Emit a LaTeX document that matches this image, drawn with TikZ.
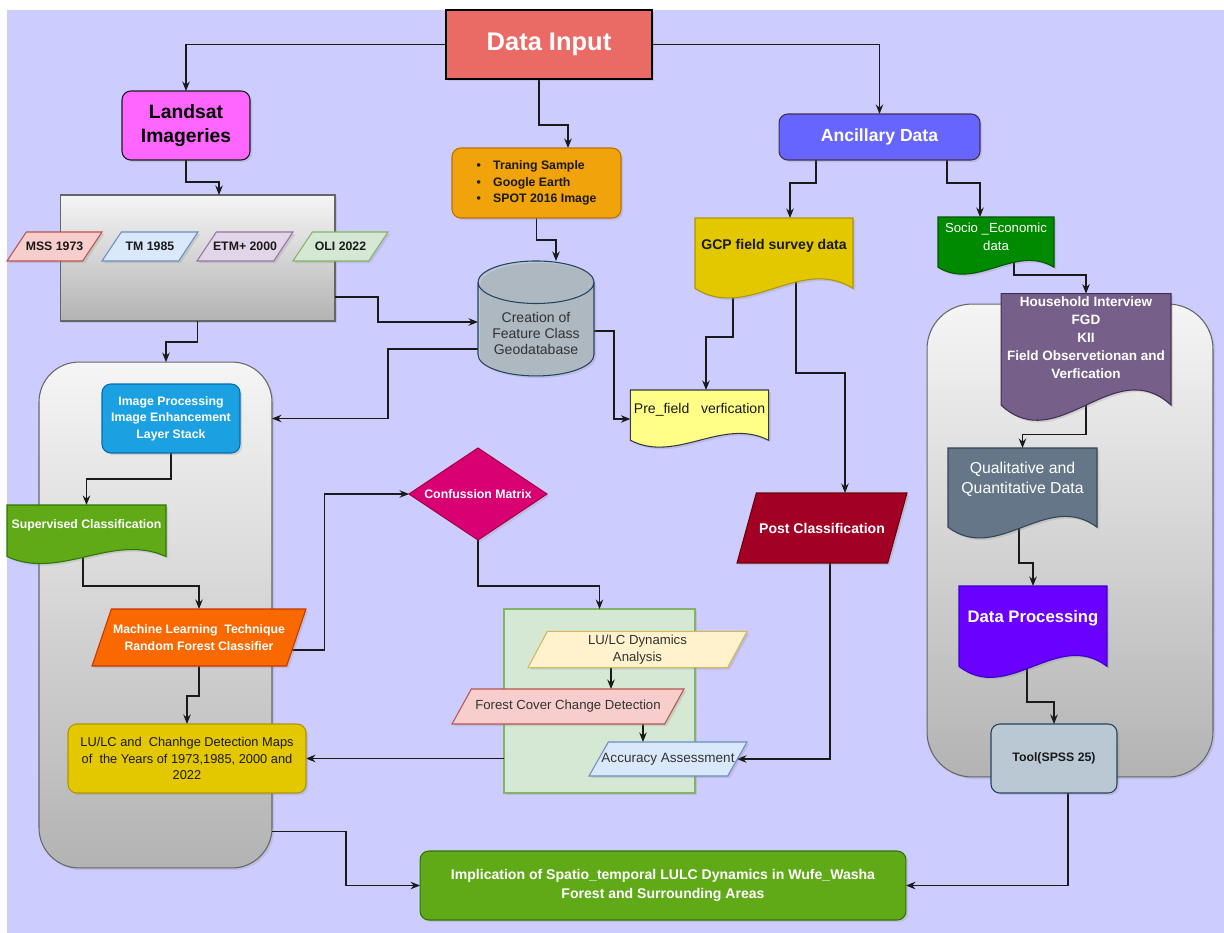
\documentclass[tikz,border=0pt]{standalone}
\usepackage{fontspec}
\setmainfont{Liberation Sans}
\usetikzlibrary{shapes.geometric,arrows.meta,shadows}

\definecolor{bgcol}{HTML}{CCCCFF}
\definecolor{ink}{HTML}{1A1A1A}
\definecolor{inred}{HTML}{EA6B66}
\definecolor{pinkfill}{HTML}{FF66FF}
\definecolor{orfill}{HTML}{F0A30A}\definecolor{orline}{HTML}{BD7000}
\definecolor{geofill}{HTML}{BAC8D3}\definecolor{geoline}{HTML}{23445D}
\definecolor{prefill}{HTML}{FFFF88}\definecolor{preline}{HTML}{36393D}
\definecolor{ancfill}{HTML}{6666FF}\definecolor{ancline}{HTML}{432D57}
\definecolor{gcpfill}{HTML}{E3C800}\definecolor{gcpline}{HTML}{B09500}
\definecolor{socfill}{HTML}{008A00}\definecolor{socline}{HTML}{005700}
\definecolor{hhfill}{HTML}{76608A}\definecolor{hhline}{HTML}{432D57}
\definecolor{qfill}{HTML}{647687}\definecolor{qline}{HTML}{314354}
\definecolor{dpfill}{HTML}{6A00FF}\definecolor{dpline}{HTML}{3700CC}
\definecolor{grfill}{HTML}{60A917}\definecolor{grline}{HTML}{2D7600}
\definecolor{blfill}{HTML}{1BA1E2}\definecolor{blline}{HTML}{006EAF}
\definecolor{mlfill}{HTML}{FA6800}\definecolor{mlline}{HTML}{C73500}
\definecolor{cmfill}{HTML}{D80073}\definecolor{cmline}{HTML}{A50040}
\definecolor{pcfill}{HTML}{A20025}\definecolor{pcline}{HTML}{6F0000}
\definecolor{lgfill}{HTML}{D5E8D4}\definecolor{lgline}{HTML}{82B366}
\definecolor{lyfill}{HTML}{FFF2CC}\definecolor{lyline}{HTML}{D6B656}
\definecolor{lrfill}{HTML}{F8CECC}\definecolor{lrline}{HTML}{B85450}
\definecolor{lbfill}{HTML}{DAE8FC}\definecolor{lbline}{HTML}{6C8EBF}
\definecolor{lpfill}{HTML}{E1D5E7}\definecolor{lpline}{HTML}{9673A6}
\definecolor{ctop}{HTML}{F5F5F5}\definecolor{cbot}{HTML}{B3B3B3}\definecolor{cline}{HTML}{666666}

\newdimen\slantoff \slantoff=11pt
\newdimen\docthird \newdimen\docpull \newdimen\docend
\newdimen\docup \newdimen\docdown

\makeatletter
\pgfdeclareshape{slantbox}{%
  \inheritsavedanchors[from=rectangle]
  \inheritanchorborder[from=rectangle]
  \inheritanchor[from=rectangle]{center}
  \inheritanchor[from=rectangle]{north}
  \inheritanchor[from=rectangle]{south}
  \inheritanchor[from=rectangle]{east}
  \inheritanchor[from=rectangle]{west}
  \inheritanchor[from=rectangle]{north east}
  \inheritanchor[from=rectangle]{north west}
  \inheritanchor[from=rectangle]{south east}
  \inheritanchor[from=rectangle]{south west}
  \inheritanchor[from=rectangle]{text}
  \inheritanchor[from=rectangle]{base}
  \inheritanchor[from=rectangle]{mid}
  \backgroundpath{%
    \southwest \pgf@xa=\pgf@x \pgf@ya=\pgf@y
    \northeast \pgf@xb=\pgf@x \pgf@yb=\pgf@y
    \pgf@xc=\pgf@xa \advance\pgf@xc by \slantoff
    \pgf@yc=\pgf@xb \advance\pgf@yc by -\slantoff
    \pgfpathmoveto{\pgfqpoint{\pgf@xa}{\pgf@ya}}%
    \pgfpathlineto{\pgfqpoint{\pgf@xc}{\pgf@yb}}%
    \pgfpathlineto{\pgfqpoint{\pgf@xb}{\pgf@yb}}%
    \pgfpathlineto{\pgfqpoint{\pgf@yc}{\pgf@ya}}%
    \pgfpathclose
  }%
}
\pgfdeclareshape{docbox}{%
  \inheritsavedanchors[from=rectangle]
  \inheritanchorborder[from=rectangle]
  \inheritanchor[from=rectangle]{center}
  \inheritanchor[from=rectangle]{north}
  \inheritanchor[from=rectangle]{south}
  \inheritanchor[from=rectangle]{east}
  \inheritanchor[from=rectangle]{west}
  \inheritanchor[from=rectangle]{north east}
  \inheritanchor[from=rectangle]{north west}
  \inheritanchor[from=rectangle]{south east}
  \inheritanchor[from=rectangle]{south west}
  \inheritanchor[from=rectangle]{text}
  \inheritanchor[from=rectangle]{base}
  \inheritanchor[from=rectangle]{mid}
  \backgroundpath{%
    \southwest \pgf@xa=\pgf@x \pgf@ya=\pgf@y
    \northeast \pgf@xb=\pgf@x \pgf@yb=\pgf@y
    \docthird=\pgf@xb \advance\docthird by -\pgf@xa \divide\docthird by 3
    \docpull=\pgf@yb \advance\docpull by -\pgf@ya
    \docend=-0.257\docpull \advance\docend by \pgf@ya
    \docpull=0.593\docpull
    \docup=\docend \advance\docup by \docpull
    \docdown=\docend \advance\docdown by -\docpull
    \pgf@xc=\pgf@xb \advance\pgf@xc by -\docthird
    \pgf@yc=\pgf@xa \advance\pgf@yc by \docthird
    \pgfpathmoveto{\pgfqpoint{\pgf@xa}{\pgf@yb}}%
    \pgfpathlineto{\pgfqpoint{\pgf@xb}{\pgf@yb}}%
    \pgfpathlineto{\pgfqpoint{\pgf@xb}{\docend}}%
    \pgfpathcurveto{\pgfqpoint{\pgf@xc}{\docup}}{\pgfqpoint{\pgf@yc}{\docdown}}{\pgfqpoint{\pgf@xa}{\docend}}%
    \pgfpathclose
  }%
}
\makeatother

\pgfdeclarelayer{back}
\pgfdeclarelayer{lines}
\pgfsetlayers{back,lines,main}

\tikzset{
  flow/.style={draw=ink, line width=0.6pt, -{Stealth[length=1.9mm,width=1.5mm]}},
  box/.style={rectangle, draw, line width=0.6pt, align=center, inner sep=2pt, outer sep=0pt,
    drop shadow={opacity=0.22, shadow xshift=1.2pt, shadow yshift=-1.2pt}},
  rbox/.style={box, rounded corners=5pt},
  slant/.style={box, shape=slantbox},
  doc/.style={box, shape=docbox},
  container/.style={box, draw=cline, top color=ctop, bottom color=cbot, rounded corners=0.8cm},
  bsmall/.style={font=\bfseries\fontsize{7}{9.4}\selectfont},
  rsmall/.style={font=\fontsize{7.5}{9.6}\selectfont},
  bmid/.style={font=\bfseries\fontsize{8}{10.2}\selectfont}
}

\begin{document}
\begin{tikzpicture}[x=0.02cm,y=-0.02cm]
\useasboundingbox (0,0) rectangle (1224,933);

\begin{pgfonlayer}{back}
\fill[bgcol] (7,10) rectangle (1224,933);
\node[container, sharp corners, minimum width=5.5cm, minimum height=2.52cm] (sensors) at (197.5,258) {};
\node[container, minimum width=4.66cm, minimum height=10.12cm] (leftc) at (155.5,615) {};
\node[container, rounded corners=0.9cm, minimum width=5.72cm, minimum height=9.46cm] (rightc) at (1070,540.5) {};
\node[box, fill=lgfill, draw=lgline, minimum width=3.82cm, minimum height=3.68cm] (dyn) at (599.5,701) {};
\end{pgfonlayer}

\node[box, fill=inred, draw=black, text=white, font=\bfseries\fontsize{14.5}{17}\selectfont,
  minimum width=4.12cm, minimum height=1.38cm] (datain) at (549,44.5) {Data Input};
\node[rbox, fill=pinkfill, draw=ink, text=black, font=\bfseries\fontsize{11}{13.6}\selectfont,
  minimum width=2.56cm, minimum height=1.38cm] (landsat) at (186,125.5) {Landsat\\Imageries};
\node[rbox, fill=ancfill, draw=ancline, text=white, font=\bfseries\fontsize{10}{12}\selectfont,
  minimum width=4.02cm, minimum height=0.92cm] (anc) at (879.5,137) {Ancillary Data};

\node[slant, bsmall, fill=lrfill, draw=lrline, text=ink, minimum width=1.9cm, minimum height=0.58cm] (mss) at (54.5,246.5) {MSS 1973};
\node[slant, bsmall, fill=lbfill, draw=lbline, text=ink, minimum width=1.92cm, minimum height=0.58cm] (tm) at (150,246.5) {TM 1985};
\node[slant, bsmall, fill=lpfill, draw=lpline, text=ink, minimum width=1.92cm, minimum height=0.58cm] (etm) at (245,246.5) {ETM+ 2000};
\node[slant, bsmall, fill=lgfill, draw=lgline, text=ink, minimum width=1.9cm, minimum height=0.58cm] (oli) at (340.5,246.5) {OLI 2022};

\node[rbox, bsmall, fill=orfill, draw=orline, text=ink, align=left,
  minimum width=3.38cm, minimum height=1.4cm] (train) at (536.5,183)
  {\textbullet\hspace{7pt}Traning Sample\\\textbullet\hspace{7pt}Google Earth\\\textbullet\hspace{7pt}SPOT 2016 Image};
\node[box, cylinder, shape border rotate=90, aspect=0.45, cylinder uses custom fill,
  cylinder body fill=geofill, cylinder end fill=geofill, draw=geoline, text=black!80,
  font=\fontsize{8}{9.1}\selectfont, minimum width=2.32cm, minimum height=2.3cm] (geo) at (536,333)
  {Creation of\\Feature Class\\Geodatabase};
\node[doc, fill=prefill, draw=preline, text=ink, font=\fontsize{8}{9.6}\selectfont,
  minimum width=2.74cm, minimum height=0.8cm] (pre) at (699.5,410) {Pre\_field\ \ \ verfication};

\node[doc, bmid, fill=gcpfill, draw=gcpline, text=ink, minimum width=3.16cm, minimum height=1.12cm] (gcp) at (774,246) {GCP field survey data};
\node[doc, font=\fontsize{7.5}{10.2}\selectfont, fill=socfill, draw=socline, text=white,
  minimum width=2.32cm, minimum height=0.8cm] (socio) at (996,237) {Socio \_Economic\\data};
\node[doc, font=\bfseries\fontsize{7.7}{10.2}\selectfont, fill=hhfill, draw=hhline, text=white,
  minimum width=3.4cm, minimum height=1.6cm] (house) at (1086,338)
  {Household Interview\\FGD\\KII\\Field Observetionan and\\Verfication};
\node[doc, font=\fontsize{9}{11.3}\selectfont, fill=qfill, draw=qline, text=white,
  minimum width=2.98cm, minimum height=1.26cm] (qual) at (1022.5,479.5) {Qualitative and\\Quantitative Data};
\node[doc, font=\bfseries\fontsize{9.5}{11}\selectfont, fill=dpfill, draw=dpline, text=white,
  minimum width=2.96cm, minimum height=1.28cm] (dproc) at (1033,618) {Data Processing};
\node[rbox, bsmall, fill=geofill, draw=geoline, text=ink, minimum width=2.52cm, minimum height=1.38cm] (tool) at (1054,758.5) {Tool(SPSS 25)};

\node[rbox, bsmall, fill=blfill, draw=blline, text=white, minimum width=2.76cm, minimum height=1.38cm] (imgp) at (171,418.5)
  {Image Processing\\Image Enhancement\\Layer Stack};
\node[doc, bsmall, fill=grfill, draw=grline, text=white, minimum width=3.18cm, minimum height=0.82cm] (superv) at (86.5,525.5) {Supervised Classification};
\node[slant, font=\bfseries\fontsize{7}{9.6}\selectfont, fill=mlfill, draw=mlline, text=white,
  minimum width=4.28cm, minimum height=1.14cm] (ml) at (199,637.5) {Machine Learning\ \ Technique\\Random Forest Classifier};
\node[rbox, font=\fontsize{7.3}{9.6}\selectfont, fill=gcpfill, draw=gcpline, text=ink,
  minimum width=4.76cm, minimum height=1.38cm] (maps) at (187,758.5)
  {LU/LC and\ \ Chanhge Detection Maps\\of\ \ the Years of 1973,1985, 2000 and\\2022};

\node[box, diamond, aspect=1.5, inner sep=0pt, bsmall, fill=cmfill, draw=cmline, text=white,
  minimum width=2.76cm, minimum height=1.84cm] (cm) at (478,494) {Confussion Matrix};
\node[slant, rsmall, fill=lyfill, draw=lyline, text=black!80, minimum width=4.38cm, minimum height=0.7cm] (lulc) at (637.5,649.5) {LU/LC Dynamics\\Analysis};
\node[slant, rsmall, fill=lrfill, draw=lrline, text=black!80, minimum width=4.64cm, minimum height=0.7cm] (forest) at (568,706.5) {Forest Cover Change Detection};
\node[slant, font=\fontsize{7.7}{9.6}\selectfont, fill=lbfill, draw=lbline, text=black!80,
  minimum width=3.16cm, minimum height=0.68cm] (acc) at (668,759) {Accuracy Assessment};
\node[slant, bmid, fill=pcfill, draw=pcline, text=white, minimum width=3.4cm, minimum height=1.4cm] (post) at (822,528) {Post Classification};

\node[rbox, font=\bfseries\fontsize{8}{11}\selectfont, fill=grfill, draw=grline, text=white,
  minimum width=9.72cm, minimum height=1.38cm] (impl) at (663,885.5)
  {Implication of Spatio\_temporal LULC Dynamics in Wufe\_Washa\\Forest and Surrounding Areas};

\begin{pgfonlayer}{lines}
\draw[flow] (datain.west) -| (landsat.north);
\draw[flow] (datain.east) -| (anc.north);
\draw[flow] ([xshift=-0.2cm]datain.south) -- ++(0,46) -| ([xshift=0.63cm]train.north);
\draw[flow] (landsat.south) -- ++(0,22) -| ([xshift=0.43cm]sensors.north);
\draw[flow] (train.south) -- ++(0,22) -| ([xshift=0.4cm]geo.north);
\draw[flow] ([yshift=-0.78cm]sensors.east) -- ++(43,0) |- ([yshift=0.22cm]geo.west);
\draw[flow] (sensors.south) -- ++(0,21) -| ([xshift=0.21cm]leftc.north);
\draw[flow] ([yshift=-0.32cm]geo.west) -- ++(-90,0) |- (leftc.east |- imgp.east);
\draw[flow] ([yshift=0.04cm]geo.east) -- ++(20,0) |- ([yshift=-0.18cm]pre.west);
\draw[flow] ([xshift=-1.27cm]anc.south) -- ++(0,23) -| ([xshift=0.32cm]gcp.north);
\draw[flow] ([xshift=1.35cm]anc.south) -- ++(0,23) -| ([xshift=-0.32cm]socio.north);
\draw[flow] ([xshift=-0.82cm]gcp.south) -- ++(0,63) -| ([xshift=0.13cm]pre.north);
\draw[flow] ([xshift=0.44cm]gcp.south) -- ++(0,99) -| ([xshift=0.46cm]post.north);
\draw[flow] ([xshift=0.36cm]socio.south) -- ++(0,18) -| (house.north);
\draw[flow] (house.south) -- ++(0,52) -| (qual.north);
\draw[flow] ([xshift=-0.07cm]qual.south) -- ++(0,52) -| (dproc.north);
\draw[flow] ([xshift=-0.12cm]dproc.south) -- ++(0,52) -| (tool.north);
\draw[flow] ([xshift=0.28cm]tool.south) |- (impl.east);
\draw[flow] (imgp.south) -- ++(0,26) -| (superv.north);
\draw[flow] ([xshift=-0.07cm]superv.south) -- ++(0,40) -| (ml.north);
\draw[flow] ([xshift=-1cm,yshift=-0.25cm]ml.east) -| ([xshift=-1.7cm]cm.west) -- (cm.west);
\draw[flow] (ml.south) -- ++(0,30) -| (maps.north);
\draw[flow] (cm.south) -- ++(0,46) -| (dyn.north);
\draw[flow] ([xshift=-0.53cm]lulc.south) coordinate (t1) -- (t1 |- forest.north);
\draw[flow] ([xshift=1.5cm]forest.south) coordinate (t2) -- (t2 |- acc.north);
\draw[flow] ([xshift=0.16cm]post.south) |- ([xshift=-0.2cm]acc.east);
\draw[flow] (dyn.west |- maps.east) -- (maps.east);
\draw[flow] ([yshift=-4.34cm]leftc.east) -- ++(74,0) |- (impl.west);
\end{pgfonlayer}
\end{tikzpicture}
\end{document}
